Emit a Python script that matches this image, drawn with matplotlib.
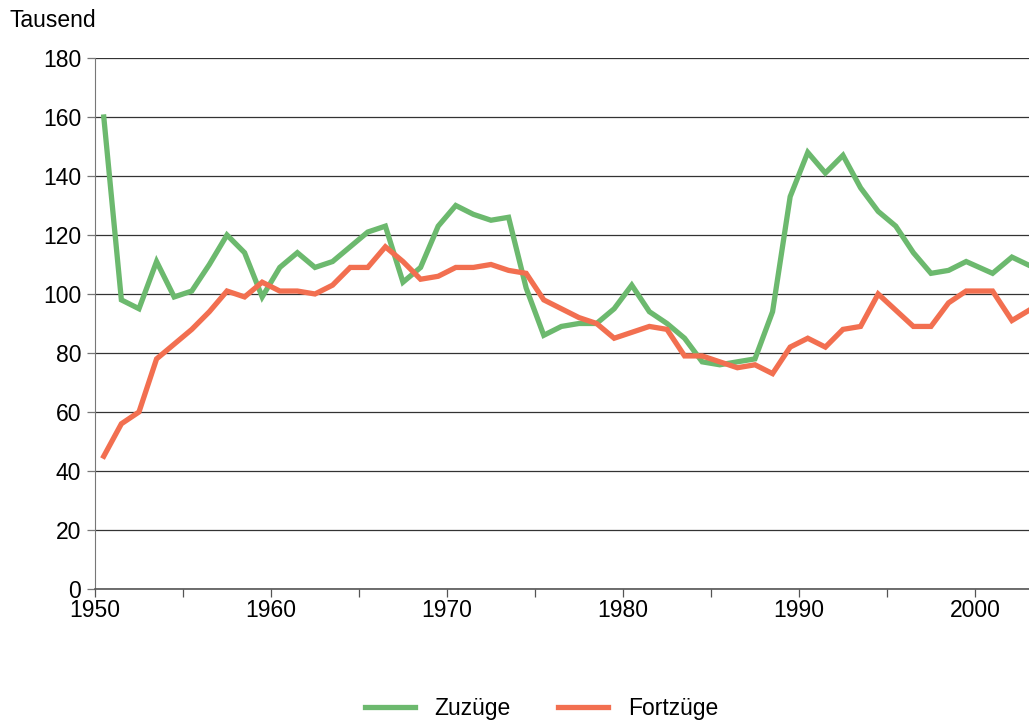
import numpy as np
import matplotlib.pyplot as plt
from matplotlib.ticker import MultipleLocator

plt.rcParams['font.family'] = ['Liberation Sans', 'DejaVu Sans']

# Jahresmitte als x-Position
jahr = list(np.arange(1950.5, 2000.0, 1.0)) + [2001.0, 2002.1, 2003.5]

zuzuege = [160, 98, 95, 111, 99, 101, 110, 120, 114, 99,
           109, 114, 109, 111, 116, 121, 123, 104, 109, 123,
           130, 127, 125, 126, 102, 86, 89, 90, 90, 95,
           103, 94, 90, 85, 77, 76, 77, 78, 94, 133,
           148, 141, 147, 136, 128, 123, 114, 107, 108, 111,
           107, 112.5, 108.5]

fortzuege = [45, 56, 60, 78, 83, 88, 94, 101, 99, 104,
             101, 101, 100, 103, 109, 109, 116, 111, 105, 106,
             109, 109, 110, 108, 107, 98, 95, 92, 90, 85,
             87, 89, 88, 79, 79, 77, 75, 76, 73, 82,
             85, 82, 88, 89, 100, 94.5, 89, 89, 97, 101,
             101, 91, 96]

gruen = '#6cb96e'
rot = '#f26f50'
fs = 16.5

fig = plt.figure(figsize=(10.29, 7.24), dpi=100)
ax = fig.add_axes([0.0923, 0.1865, 0.9077, 0.7334])

ax.plot(jahr, zuzuege, color=gruen, lw=3.8, solid_joinstyle='miter', label='Zuzüge', zorder=3)
ax.plot(jahr, fortzuege, color=rot, lw=3.8, solid_joinstyle='miter', label='Fortzüge', zorder=3)

ax.set_xlim(1950, 2003.07)
ax.set_ylim(0, 180)
ax.yaxis.set_major_locator(MultipleLocator(20))
ax.xaxis.set_major_locator(MultipleLocator(10))
ax.xaxis.set_minor_locator(MultipleLocator(5))

ax.grid(axis='y', color='#333333', lw=0.9)
ax.set_axisbelow(True)
for s in ['top', 'right']:
    ax.spines[s].set_visible(False)
ax.spines['left'].set_color('#777777')
ax.spines['bottom'].set_color('#555555')
ax.spines['bottom'].set_linewidth(1.2)

ax.tick_params(axis='y', length=6, width=0.9, color='#777777', labelsize=fs, pad=4)
ax.tick_params(axis='x', which='both', length=6, width=0.9, color='#555555', labelsize=fs, pad=1)

fig.text(0.0097, 0.972, 'Tausend', fontsize=fs, va='center', ha='left')

fig.legend(loc='center', bbox_to_anchor=(0.526, 0.022), ncol=2, frameon=False,
           fontsize=fs, handlelength=2.2, handletextpad=0.85, columnspacing=2.05)

fig.savefig('out.png', dpi=100)
